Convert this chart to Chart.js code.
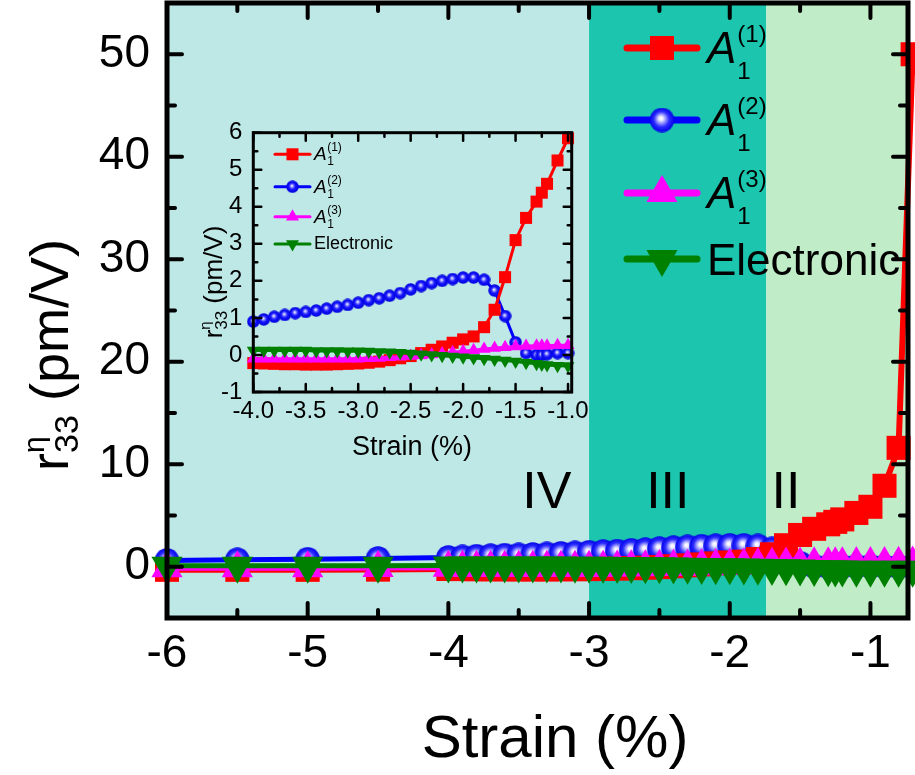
<!DOCTYPE html>
<html><head><meta charset="utf-8">
<script src="https://cdn.jsdelivr.net/npm/chart.js@4.4.1/dist/chart.umd.min.js"></script>
<style>
html,body{margin:0;padding:0;background:#fff;}
#wrap{position:relative;width:915px;height:775px;overflow:hidden;}
#main{position:absolute;left:0;top:0;}
#inset{position:absolute;left:180px;top:120px;}
</style></head><body>
<div id="wrap"><canvas id="main" width="915" height="775"></canvas><canvas id="inset" width="410" height="360"></canvas></div>
<script>
// ---------- data ----------
const strain = [-6, -5.5, -5, -4.5, -4.0, -3.9, -3.8, -3.7, -3.6, -3.5, -3.4, -3.3, -3.2, -3.1, -3.0, -2.9, -2.8, -2.7, -2.6, -2.5, -2.4, -2.3, -2.2, -2.1, -2.0, -1.9, -1.8, -1.7, -1.6, -1.5, -1.4, -1.3, -1.25, -1.2, -1.1, -1.0, -0.9, -0.8, -0.7];
const a1First = [-0.3, -0.3, -0.3, -0.28, -0.22, -0.23, -0.24, -0.25, -0.25, -0.26, -0.26, -0.26, -0.25, -0.24, -0.23, -0.21, -0.18, -0.14, -0.09, -0.03, 0.05, 0.14, 0.23, 0.33, 0.42, 0.5, 0.75, 1.22, 2.1, 3.1, 3.7, 4.14, 4.38, 4.62, 5.25, 5.85, 7.9, 11.6, 50];
const a1Second = [0.62, 0.68, 0.73, 0.8, 0.9, 0.96, 1.03, 1.08, 1.13, 1.16, 1.2, 1.25, 1.3, 1.35, 1.41, 1.48, 1.53, 1.6, 1.67, 1.77, 1.86, 1.94, 2.0, 2.05, 2.09, 2.09, 2.03, 1.74, 1.05, 0.34, 0.05, 0.0, 0.0, 0.02, 0.05, 0.05, 0.02, 0.0, 0.0];
const a1Third = [-0.15, -0.15, -0.15, -0.13, -0.1, -0.1, -0.1, -0.1, -0.1, -0.1, -0.1, -0.1, -0.1, -0.1, -0.1, -0.09, -0.08, -0.06, -0.05, -0.03, -0.01, 0.01, 0.04, 0.07, 0.1, 0.13, 0.16, 0.19, 0.21, 0.23, 0.24, 0.25, 0.25, 0.25, 0.26, 0.26, 0.28, 0.3, 0.32];
const electronic = [0.1, 0.1, 0.1, 0.1, 0.12, 0.12, 0.12, 0.12, 0.12, 0.12, 0.11, 0.11, 0.11, 0.1, 0.1, 0.09, 0.08, 0.07, 0.06, 0.04, 0.02, 0.0, -0.02, -0.04, -0.06, -0.08, -0.1, -0.12, -0.15, -0.18, -0.21, -0.24, -0.26, -0.27, -0.29, -0.3, -0.3, -0.3, -0.3];

const seriesBase = ['A', 'A', 'A', 'Electronic'];
const seriesSub = ['1', '1', '1', ''];
const seriesSup = ['(1)', '(2)', '(3)', ''];

const mainXTicks = [-6, -5, -4, -3, -2, -1];
const mainXMinor = [-5.5, -4.5, -3.5, -2.5, -1.5];
const mainYTicks = [0, 10, 20, 30, 40, 50];
const mainYMinor = [5, 15, 25, 35, 45];
const insetXTicks = [-4.0, -3.5, -3.0, -2.5, -2.0, -1.5, -1.0];
const insetXMinor = [-3.75, -3.25, -2.75, -2.25, -1.75, -1.25];
const insetYTicks = [-1, 0, 1, 2, 3, 4, 5, 6];
const insetYMinor = [-0.5, 0.5, 1.5, 2.5, 3.5, 4.5, 5.5];

const regionNames = ['IV', 'III', 'II'];
const regionFrom = [-6, -3, -1.74];
const regionTo = [-3, -1.74, -0.733];
const regionLabelX = [-3.3, -2.44, -1.6];
const regionLabelY = 5.74;

const xTitle = 'Strain (%)';

// ---------- styles ----------
const FONT = '"Liberation Sans", Arial, Helvetica, sans-serif';
const regionColors = ['#bee8e6', '#1cc6ae', '#c0ecc8'];
const colors = ['#ff0000', '#0000ff', '#ff00ff', '#008000'];

function makeBall(d, stops) {
  const c = document.createElement('canvas');
  c.width = d; c.height = d;
  const g = c.getContext('2d');
  const r = d / 2;
  const grad = g.createRadialGradient(r * 0.9, r * 0.85, 0, r, r, r);
  stops.forEach(s => grad.addColorStop(s[0], s[1]));
  g.fillStyle = grad;
  g.beginPath(); g.arc(r, r, r - 0.3, 0, Math.PI * 2); g.fill();
  return c;
}
const ballMain = makeBall(25, [[0, '#ffffff'], [0.15, '#f0f0ff'], [0.35, '#9c9cff'], [0.62, '#2b2bff'], [1, '#0000e6']]);
const ballInset = makeBall(13, [[0, '#ffffff'], [0.1, '#d8d8ff'], [0.28, '#7070ff'], [0.5, '#1414ff'], [1, '#0000d8']]);

function markerDefs(s) {
  return [
    {pointStyle: 'rect', radius: s.sq, rotation: 0},
    {pointStyle: s.ball, radius: s.ballR, rotation: 0},
    {pointStyle: 'triangle', radius: s.tri, rotation: 0},
    {pointStyle: 'triangle', radius: s.tri, rotation: 180}
  ];
}
const mainMarkers = markerDefs({sq: 17, ball: ballMain, ballR: 12.5, tri: 18});
const insetMarkers = markerDefs({sq: 8.5, ball: ballInset, ballR: 6.5, tri: 7.5});

function buildDatasets(markers, lineWidths, filterFn) {
  const series = [a1First, a1Second, a1Third, electronic];
  const names = ['A1(1)', 'A1(2)', 'A1(3)', 'Electronic'];
  const order = [2, 3, 1, 0];
  return series.map((vals, i) => ({
    label: names[i],
    data: strain.map((x, k) => ({x: x, y: vals[k]})).filter(p => filterFn(p.x)),
    showLine: true,
    borderColor: colors[i],
    backgroundColor: colors[i],
    borderWidth: lineWidths[i],
    borderJoinStyle: 'round',
    pointStyle: markers[i].pointStyle,
    pointRadius: markers[i].radius,
    pointRotation: markers[i].rotation,
    pointBackgroundColor: colors[i],
    pointBorderColor: colors[i],
    pointBorderWidth: 0,
    tension: 0,
    clip: false,
    order: order[i]
  }));
}

function drawPt(ctx, m, x, y, color) {
  ctx.save();
  ctx.fillStyle = color; ctx.strokeStyle = color;
  Chart.helpers.drawPoint(ctx, {pointStyle: m.pointStyle, radius: m.radius, rotation: m.rotation, borderWidth: 0}, x, y);
  ctx.restore();
}

function drawFrame(chart, o) {
  const {ctx, chartArea: a, scales: {x, y}} = chart;
  ctx.save();
  ctx.strokeStyle = '#000';
  ctx.lineCap = 'round';
  ctx.lineWidth = o.tickW;
  const tick = (vals, len, isX) => {
    vals.forEach(v => {
      ctx.beginPath();
      if (isX) {
        const p = x.getPixelForValue(v);
        ctx.moveTo(p, a.bottom); ctx.lineTo(p, a.bottom - len);
        ctx.moveTo(p, a.top); ctx.lineTo(p, a.top + len);
      } else {
        const p = y.getPixelForValue(v);
        ctx.moveTo(a.left, p); ctx.lineTo(a.left + len, p);
        ctx.moveTo(a.right, p); ctx.lineTo(a.right - len, p);
      }
      ctx.stroke();
    });
  };
  tick(o.xMajor, o.major, true); tick(o.xMinor, o.minor, true);
  tick(o.yMajor, o.major, false); tick(o.yMinor, o.minor, false);
  ctx.lineCap = 'butt';
  ctx.lineJoin = 'miter';
  ctx.lineWidth = o.lw;
  ctx.strokeRect(a.left, a.top, a.right - a.left, a.bottom - a.top);
  ctx.restore();
}

function drawLegend(ctx, L, markers) {
  ctx.save();
  ctx.fillStyle = '#000';
  ctx.textAlign = 'left';
  ctx.textBaseline = 'alphabetic';
  for (let i = 0; i < 4; i++) {
    const y = L.ys[i];
    ctx.strokeStyle = colors[i];
    ctx.lineWidth = L.lw;
    ctx.lineCap = 'round';
    ctx.beginPath(); ctx.moveTo(L.x0, y); ctx.lineTo(L.x1, y); ctx.stroke();
    drawPt(ctx, markers[i], L.xm, y, colors[i]);
    ctx.fillStyle = '#000';
    if (seriesSub[i]) {
      ctx.font = 'italic ' + L.fA + 'px ' + FONT;
      ctx.fillText(seriesBase[i], L.xt, y + L.dyA);
      const w = ctx.measureText(seriesBase[i]).width;
      ctx.font = L.fS + 'px ' + FONT;
      ctx.fillText(seriesSub[i], L.xt + w + L.dxS, y + L.dySub);
      ctx.fillText(seriesSup[i], L.xt + w + L.dxS, y + L.dySup);
    } else {
      ctx.font = L.fE + 'px ' + FONT;
      ctx.fillText(seriesBase[i], L.xt, y + L.dyE);
    }
  }
  ctx.restore();
}

function drawRTitle(ctx, bx, cy, f) {
  ctx.save();
  ctx.fillStyle = '#000';
  ctx.textBaseline = 'alphabetic';
  ctx.textAlign = 'left';
  ctx.font = f.main + 'px ' + FONT;
  const wr = ctx.measureText('r').width;
  const wp = ctx.measureText('(pm/V)').width;
  ctx.font = f.sup + 'px ' + FONT;
  const wsup = ctx.measureText('η').width;
  ctx.font = f.sub + 'px ' + FONT;
  const wsub = ctx.measureText('33').width;
  const mid = Math.max(wsup, wsub);
  const total = wr + mid + f.gap + wp;
  ctx.translate(bx, cy + total / 2);
  ctx.rotate(-Math.PI / 2);
  ctx.font = f.main + 'px ' + FONT;
  ctx.fillText('r', 0, 0);
  ctx.font = f.sup + 'px ' + FONT;
  ctx.fillText('η', wr + f.supDx, -f.supDy);
  ctx.font = f.sub + 'px ' + FONT;
  ctx.fillText('33', wr, f.subDy);
  ctx.font = f.main + 'px ' + FONT;
  ctx.fillText('(pm/V)', wr + mid + f.gap, 0);
  ctx.restore();
}

const framePlugin = {
  id: 'customFrame',
  beforeDatasetsDraw(chart, args, opts) {
    if (opts.regions) {
      const {ctx, chartArea: a, scales: {x, y}} = chart;
      ctx.save();
      regionNames.forEach((nm, i) => {
        const l = Math.max(a.left, x.getPixelForValue(regionFrom[i]));
        const r = Math.min(a.right, x.getPixelForValue(regionTo[i]));
        ctx.fillStyle = regionColors[i];
        ctx.fillRect(l, a.top, r - l, a.bottom - a.top);
      });
      ctx.fillStyle = '#000';
      ctx.font = opts.regionFont + 'px ' + FONT;
      ctx.textAlign = 'center';
      ctx.textBaseline = 'alphabetic';
      regionNames.forEach((nm, i) => {
        ctx.fillText(nm, x.getPixelForValue(regionLabelX[i]), y.getPixelForValue(regionLabelY));
      });
      ctx.restore();
    }
  },
  afterDatasetsDraw(chart, args, opts) {
    drawFrame(chart, opts.frame);
    drawLegend(chart.ctx, opts.legend, opts.markers);
    const ctx = chart.ctx;
    ctx.save();
    ctx.fillStyle = '#000';
    ctx.font = opts.xt.size + 'px ' + FONT;
    ctx.textAlign = 'center';
    ctx.textBaseline = 'alphabetic';
    ctx.fillText(xTitle, opts.xt.x, opts.xt.y);
    ctx.restore();
    drawRTitle(ctx, opts.yt.bx, opts.yt.cy, opts.yt);
  }
};

function tickFont(sz) { return {family: FONT, size: sz}; }
function fixX(h) { return s => { s.height = h; s.paddingLeft = 0; s.paddingRight = 0; s.paddingTop = 0; s.paddingBottom = 0; }; }
function fixY(w) { return s => { s.width = w; s.paddingLeft = 0; s.paddingRight = 0; s.paddingTop = 0; s.paddingBottom = 0; }; }

// ---------- main chart ----------
new Chart(document.getElementById('main'), {
  type: 'scatter',
  data: {datasets: buildDatasets(mainMarkers, [6, 5, 5, 5], () => true)},
  plugins: [framePlugin],
  options: {
    responsive: false, animation: false, devicePixelRatio: 1,
    layout: {autoPadding: false, padding: {top: 3, right: 7, left: 0, bottom: 0}},
    plugins: {
      legend: {display: false}, tooltip: {enabled: false},
      customFrame: {
        regions: true, regionFont: 52,
        frame: {lw: 5, tickW: 4, major: 15, minor: 8, xMajor: mainXTicks, xMinor: mainXMinor, yMajor: mainYTicks, yMinor: mainYMinor},
        legend: {ys: [48, 120, 193, 259], x0: 627, x1: 697, xm: 662, xt: 707, lw: 7, fA: 44, fS: 24, dxS: 1, dyA: 15, dySub: 31, dySup: -6, fE: 44, dyE: 16},
        markers: mainMarkers,
        xt: {size: 60, x: 555, y: 757},
        yt: {bx: 68, cy: 355, main: 54, sup: 30, sub: 34, supDx: 0, supDy: 24, subDy: 10, gap: 14}
      }
    },
    scales: {
      x: {
        type: 'linear', min: -6, max: -0.733,
        afterBuildTicks: s => { s.ticks = mainXTicks.map(v => ({value: v})); },
        afterFit: fixX(157),
        grid: {display: false, drawTicks: false}, border: {display: false},
        ticks: {font: tickFont(46), color: '#000', padding: 9, maxRotation: 0, autoSkip: false, callback: v => String(v)}
      },
      y: {
        type: 'linear', min: -5, max: 55,
        afterBuildTicks: s => { s.ticks = mainYTicks.map(v => ({value: v})); },
        afterFit: fixY(167),
        grid: {display: false, drawTicks: false}, border: {display: false},
        ticks: {font: tickFont(46), color: '#000', padding: 17, autoSkip: false, callback: v => String(v)}
      }
    }
  }
});

// ---------- inset chart ----------
new Chart(document.getElementById('inset'), {
  type: 'scatter',
  data: {datasets: buildDatasets(insetMarkers, [3, 3, 3, 3], x => x >= -4.0001 && x <= -0.9999)},
  plugins: [framePlugin],
  options: {
    responsive: false, animation: false, devicePixelRatio: 1,
    layout: {autoPadding: false, padding: {top: 12.7, right: 18.3, left: 0, bottom: 0}},
    plugins: {
      legend: {display: false}, tooltip: {enabled: false},
      customFrame: {
        regions: false,
        frame: {lw: 3, tickW: 2.5, major: 8, minor: 4, xMajor: insetXTicks, xMinor: insetXMinor, yMajor: insetYTicks, yMinor: insetYMinor},
        legend: {ys: [34.3, 66.7, 96.7, 124], x0: 95, x1: 130, xm: 112.5, xt: 134, lw: 3, fA: 19, fS: 12, dxS: 0.5, dyA: 6, dySub: 11, dySup: -3, fE: 18, dyE: 5},
        markers: insetMarkers,
        xt: {size: 27, x: 232, y: 335},
        yt: {bx: 42, cy: 162, main: 26, sup: 15, sub: 17, supDx: 0, supDy: 12, subDy: 5, gap: 7}
      }
    },
    scales: {
      x: {
        type: 'linear', min: -4, max: -0.965,
        afterBuildTicks: s => { s.ticks = insetXTicks.map(v => ({value: v})); },
        afterFit: fixX(88),
        grid: {display: false, drawTicks: false}, border: {display: false},
        ticks: {font: tickFont(24), color: '#000', padding: 5, maxRotation: 0, autoSkip: false, callback: v => Number(v).toFixed(1)}
      },
      y: {
        type: 'linear', min: -1, max: 6,
        afterBuildTicks: s => { s.ticks = insetYTicks.map(v => ({value: v})); },
        afterFit: fixY(73.3),
        grid: {display: false, drawTicks: false}, border: {display: false},
        ticks: {font: tickFont(24), color: '#000', padding: 11, autoSkip: false, callback: v => String(v)}
      }
    }
  }
});
</script>
</body></html>
